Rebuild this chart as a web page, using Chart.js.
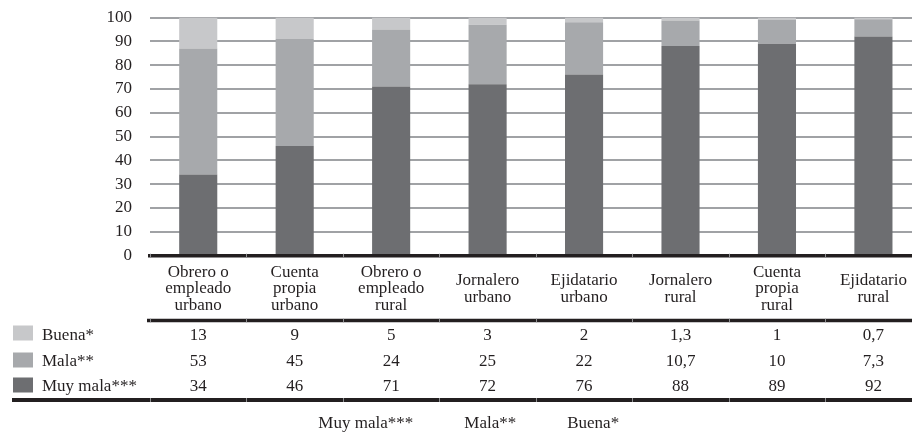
<!DOCTYPE html>
<html lang="es">
<head>
<meta charset="utf-8">
<script src="https://cdn.jsdelivr.net/npm/chart.js@4"></script>
<style>
  html, body { margin: 0; padding: 0; background: #fff; overflow: hidden; }
  #wrap { width: 912px; height: 432px; overflow: hidden; position: relative; }
  canvas { display: block; }
</style>
</head>
<body>
<div id="wrap"><canvas id="c" width="924" height="442"></canvas></div>
<script>
// Categorías de ocupación (etiquetas de columna en varias líneas)
const categories = [
  ['Obrero o', 'empleado', 'urbano'],
  ['Cuenta', 'propia', 'urbano'],
  ['Obrero o', 'empleado', 'rural'],
  ['Jornalero', 'urbano'],
  ['Ejidatario', 'urbano'],
  ['Jornalero', 'rural'],
  ['Cuenta', 'propia', 'rural'],
  ['Ejidatario', 'rural']
];

// Porcentajes por condición
const muyMala = [34, 46, 71, 72, 76, 88, 89, 92];
const mala    = [53, 45, 24, 25, 22, 10.7, 10, 7.3];
const buena   = [13, 9, 5, 3, 2, 1.3, 1, 0.7];

const seriesNames = ['Muy mala***', 'Mala**', 'Buena*'];
const yTicks = [0, 10, 20, 30, 40, 50, 60, 70, 80, 90, 100];

const INK = '#231f20';
const FONT = 'Liberation Serif';
const COLORS = { muyMala: '#6d6e71', mala: '#a7a9ac', buena: '#c7c8ca' };

const fmt = v => String(v).replace('.', ',');

// Tabla de datos bajo el eje X: filas con muestra de color y valores por columna
const dataTable = {
  id: 'dataTable',
  afterDraw(chart) {
    const ctx = chart.ctx;
    const xs = chart.scales.x;
    const top = xs.top;
    const left = xs.left - 3;
    const right = xs.right;
    const n = categories.length;
    const step = n > 1 ? xs.getPixelForValue(1) - xs.getPixelForValue(0) : 0;

    const rows = [
      { name: seriesNames[2], values: buena,   color: COLORS.buena },
      { name: seriesNames[1], values: mala,    color: COLORS.mala },
      { name: seriesNames[0], values: muyMala, color: COLORS.muyMala }
    ];
    const baselines = [top + 84, top + 110.5, top + 135.5];
    const swatchTops = [top + 70, top + 97, top + 122];

    ctx.save();
    // reglas horizontales
    ctx.fillStyle = INK;
    const headerRule = top + 65;
    ctx.fillRect(left, headerRule - 1.75, right - left, 3.5);
    const bottomRule = top + 144.5;
    ctx.fillRect(12, bottomRule - 2, right - 12, 4);

    // separadores de columna dentro de las reglas
    ctx.fillStyle = '#8d8d8f';
    for (let i = 0; i < n; i++) {
      const bx = Math.round(xs.getPixelForValue(i) - step / 2);
      ctx.fillRect(bx, top - 1.75, 1, 3.5);
      ctx.fillRect(bx, headerRule - 1.75, 1, 3.5);
      ctx.fillRect(bx, bottomRule - 2, 1, 4);
    }

    ctx.font = '17px "' + FONT + '"';
    ctx.textBaseline = 'alphabetic';
    rows.forEach((r, k) => {
      ctx.fillStyle = r.color;
      ctx.fillRect(13, swatchTops[k], 20, 15);
      ctx.fillStyle = INK;
      ctx.textAlign = 'left';
      ctx.fillText(r.name, 42, baselines[k]);
      ctx.textAlign = 'center';
      r.values.forEach((v, i) => {
        ctx.fillText(fmt(v), xs.getPixelForValue(i), baselines[k]);
      });
    });
    ctx.restore();
  }
};

new Chart(document.getElementById('c'), {
  type: 'bar',
  data: {
    labels: categories,
    datasets: [
      { label: seriesNames[0], data: muyMala, backgroundColor: COLORS.muyMala },
      { label: seriesNames[1], data: mala,    backgroundColor: COLORS.mala },
      { label: seriesNames[2], data: buena,   backgroundColor: COLORS.buena }
    ]
  },
  options: {
    responsive: false,
    animation: false,
    devicePixelRatio: 1,
    layout: { padding: { left: -24, right: 1, top: 17.5, bottom: 0 } },
    datasets: { bar: { categoryPercentage: 1, barPercentage: 0.395, borderWidth: 0 } },
    scales: {
      x: {
        stacked: true,
        grid: { display: false, drawTicks: false },
        border: { display: true, color: INK, width: 3.5, z: 1 },
        ticks: {
          color: INK,
          padding: 17,
          crossAlign: 'center',
          maxRotation: 0,
          autoSkip: false,
          font: { family: FONT, size: 17, lineHeight: '16.5px' }
        },
        afterFit(s) { s.height = 147; }
      },
      y: {
        stacked: true,
        min: 0,
        max: 100,
        grid: { color: '#a0a2a5', lineWidth: 2, drawTicks: true, tickLength: 18, tickColor: 'rgba(0,0,0,0)' },
        border: { display: false },
        ticks: {
          color: INK,
          padding: 0,
          autoSkip: false,
          font: { family: FONT, size: 17 }
        },
        afterBuildTicks(s) { s.ticks = yTicks.map(v => ({ value: v })); },
        afterFit(s) { s.width = 174; }
      }
    },
    plugins: {
      tooltip: { enabled: false },
      legend: {
        position: 'bottom',
        labels: {
          color: INK,
          boxWidth: 30,
          padding: 12.5,
          font: { family: FONT, size: 17 },
          generateLabels(chart) {
            const items = Chart.defaults.plugins.legend.labels.generateLabels(chart);
            items.forEach(it => {
              it.fillStyle = 'rgba(0,0,0,0)';
              it.strokeStyle = 'rgba(0,0,0,0)';
              it.lineWidth = 0;
            });
            return items;
          }
        }
      }
    }
  },
  plugins: [dataTable]
});
</script>
</body>
</html>
